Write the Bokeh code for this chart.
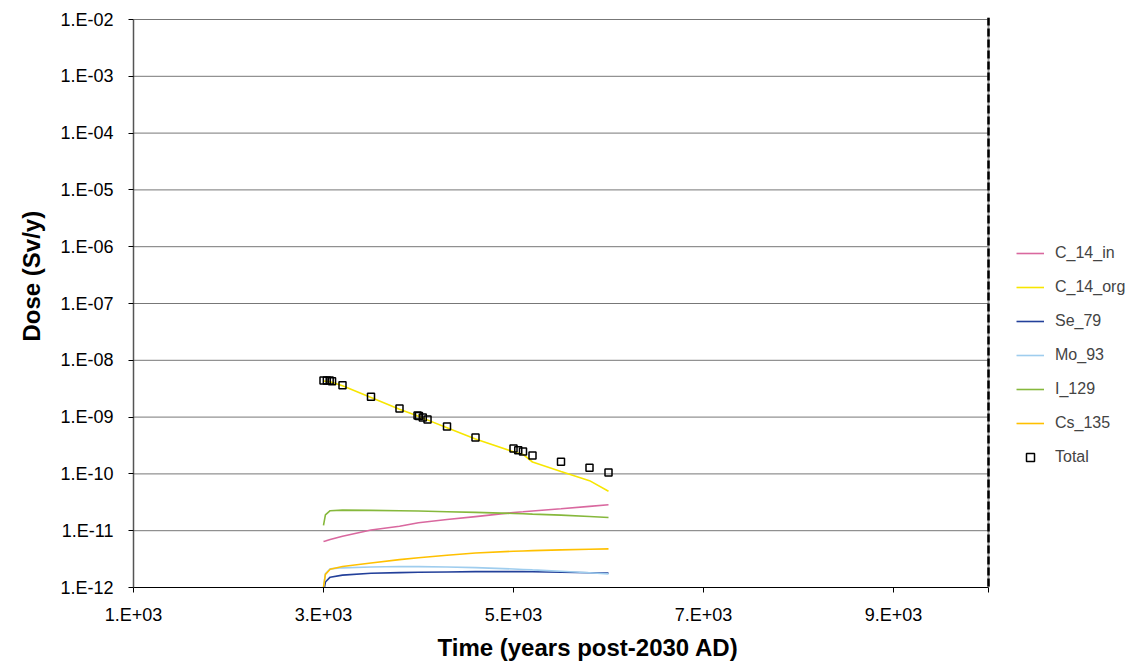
from bokeh.plotting import figure
from bokeh.models import (Range1d, FixedTicker, CustomJSTickFormatter, Legend, LegendItem,
                          Span, Title)
from bokeh.embed import file_html
from bokeh.resources import INLINE

# ---- data ----
t_total = [3000, 3035, 3065, 3090, 3200, 3500, 3800, 3990, 4005, 4045, 4095, 4300, 4600,
           5000, 5050, 5100, 5200, 5500, 5800, 6000]
dose_total = [4.4e-9, 4.4e-9, 4.4e-9, 4.28e-9, 3.65e-9, 2.28e-9, 1.42e-9, 1.07e-9, 1.05e-9,
              9.8e-10, 9.1e-10, 6.8e-10, 4.38e-10, 2.8e-10, 2.61e-10, 2.48e-10, 2.11e-10,
              1.63e-10, 1.28e-10, 1.06e-10]

t_lines = [3000, 3020, 3070, 3200, 3500, 3800, 4000, 4300, 4600, 5000, 5100, 5200, 5500, 5800, 6000]
c14_in = [6.45e-12, 6.6e-12, 7.0e-12, 8.0e-12, 1.03e-11, 1.2e-11, 1.38e-11, 1.57e-11, 1.77e-11,
          2.09e-11, 2.15e-11, 2.22e-11, 2.43e-11, 2.68e-11, 2.86e-11]
c14_org = [4.3e-9, 4.28e-9, 4.2e-9, 3.55e-9, 2.22e-9, 1.38e-9, 1.03e-9, 6.5e-10, 4.1e-10,
           2.45e-10, 2.2e-10, 1.62e-10, 1.1e-10, 7.6e-11, 4.95e-11]
se_79 = [8e-13, 1.25e-12, 1.52e-12, 1.65e-12, 1.78e-12, 1.83e-12, 1.85e-12, 1.88e-12, 1.9e-12,
         1.9e-12, 1.9e-12, 1.89e-12, 1.85e-12, 1.82e-12, 1.79e-12]
mo_93 = [1.0e-12, 1.75e-12, 2.13e-12, 2.22e-12, 2.3e-12, 2.34e-12, 2.33e-12, 2.3e-12, 2.24e-12,
         2.12e-12, 2.08e-12, 2.04e-12, 1.93e-12, 1.82e-12, 1.74e-12]
i_129 = [1.24e-11, 1.9e-11, 2.25e-11, 2.3e-11, 2.28e-11, 2.25e-11, 2.22e-11, 2.16e-11, 2.1e-11,
         2.01e-11, 1.99e-11, 1.96e-11, 1.88e-11, 1.78e-11, 1.71e-11]
cs_135 = [1.02e-12, 1.7e-12, 2.1e-12, 2.35e-12, 2.7e-12, 3.1e-12, 3.35e-12, 3.7e-12, 4.05e-12,
          4.35e-12, 4.4e-12, 4.45e-12, 4.6e-12, 4.72e-12, 4.79e-12]

series_names = ["C_14_in", "C_14_org", "Se_79", "Mo_93", "I_129", "Cs_135"]
series_values = [c14_in, c14_org, se_79, mo_93, i_129, cs_135]
series_colors = ["#d9689f", "#f7e600", "#23409a", "#9fcdee", "#86b83c", "#ffc000"]

x_ticks = [1000, 3000, 5000, 7000, 9000, 10000]
y_ticks = [1e-12, 1e-11, 1e-10, 1e-9, 1e-8, 1e-7, 1e-6, 1e-5, 1e-4, 1e-3, 1e-2]

FONT = "Liberation Sans"

# ---- layout (plot area 855 x 568 px; extra room on the right for the legend) ----
X0, X1 = x_ticks[0], x_ticks[-1]
Y0, Y1 = y_ticks[0], y_ticks[-1]
PLOT_W, PLOT_H = 855, 568
LEG_W = 141            # room right of the plot area, inside the frame
TOP_PAD = 2            # px above the top gridline so it is not clipped
decade_px = PLOT_H / 10.0
x_view_end = X1 + (X1 - X0) * LEG_W / PLOT_W
y_view_top = Y1 * 10 ** (TOP_PAD / decade_px)

p = figure(frame_width=PLOT_W + LEG_W, frame_height=PLOT_H + TOP_PAD, y_axis_type="log",
           x_range=Range1d(X0, x_view_end), y_range=Range1d(Y0, y_view_top),
           output_backend="svg", toolbar_location=None,
           min_border_left=133, min_border_top=19 - TOP_PAD, min_border_right=0,
           min_border_bottom=60)
p.background_fill_color = "white"
p.outline_line_color = None
p.xgrid.visible = False
p.ygrid.visible = False

# horizontal gridlines limited to the plot area
n = len(y_ticks)
p.segment(x0=[X0] * n, y0=y_ticks, x1=[X1] * n, y1=y_ticks,
          line_color="#777777", line_width=1)

# right border: grey line with black dashes
p.add_layout(Span(location=X1, dimension="height", line_color="#9a9a9a", line_width=2))
p.add_layout(Span(location=X1, dimension="height", line_color="black", line_width=2.5,
                  line_dash="8 3"))

# axes
xa = p.xaxis[0]
xa.ticker = FixedTicker(ticks=x_ticks, minor_ticks=[])
xa.bounds = (X0, X1)
xa.formatter = CustomJSTickFormatter(code="""
if (tick >= 10000) { return ""; }
const e = Math.floor(Math.log10(tick) + 1e-9);
const m = Math.round(tick / Math.pow(10, e));
return m + ".E+" + (e < 10 ? "0" : "") + e;
""")
ya = p.yaxis[0]
ya.ticker = FixedTicker(ticks=y_ticks, minor_ticks=[])
ya.bounds = (Y0, Y1)
ya.formatter = CustomJSTickFormatter(code="""
const e = Math.round(Math.log10(tick));
const a = Math.abs(e);
return "1.E" + (e < 0 ? "-" : "+") + (a < 10 ? "0" : "") + a;
""")
for ax in (xa, ya):
    ax.major_tick_in = 0
    ax.major_tick_out = 5
    ax.minor_tick_line_color = None
    ax.major_label_text_font = FONT
    ax.major_label_text_font_size = "18px"
    ax.major_label_text_color = "black"
    ax.major_tick_line_color = "black"
xa.axis_line_color = "black"
xa.axis_line_width = 1.2
ya.axis_line_color = "#555555"
ya.axis_line_width = 1.5
xa.major_label_standoff = 12
ya.major_label_standoff = 15

# axis titles
p.add_layout(Title(text="Time (years post-2030 AD)", align="left", offset=304,
                   text_font=FONT, text_font_size="24px", text_font_style="bold",
                   text_color="black", standoff=8), "below")
p.add_layout(Title(text="Dose (Sv/y)", align="left", offset=244 + TOP_PAD,
                   text_font=FONT, text_font_size="24px", text_font_style="bold",
                   text_color="black", standoff=26), "left")

# lines
items = []
for name, vals, col in zip(series_names, series_values, series_colors):
    r = p.line(t_lines, vals, line_color=col, line_width=1.6)
    items.append(LegendItem(label=name, renderers=[r]))

rt = p.scatter(t_total, dose_total, marker="square", size=7, line_color="black",
               line_width=1.5, fill_color=None)
items.append(LegendItem(label="Total", renderers=[rt]))

legend = Legend(items=items, location=(PLOT_W + 28, 120), label_text_font=FONT,
                label_text_font_size="16px", glyph_width=28, glyph_height=20,
                label_height=20, spacing=14, padding=8, margin=0, label_standoff=11,
                border_line_color=None, background_fill_alpha=0)
p.add_layout(legend, "center")

open("out.html", "w").write(file_html(p, INLINE))
